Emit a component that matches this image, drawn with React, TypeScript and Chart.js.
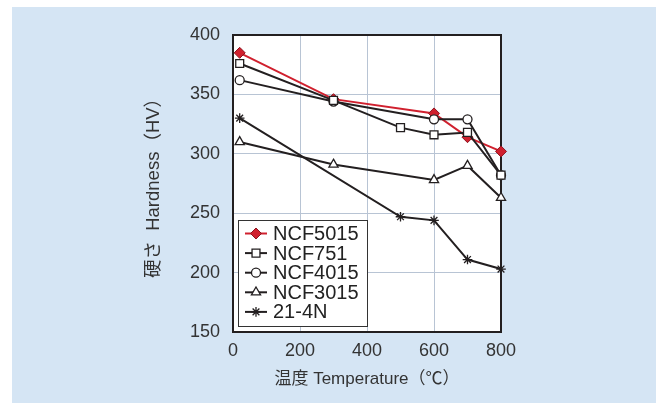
import React, { useEffect, useRef } from "react";
import { Chart, registerables } from "chart.js";
import { drawPoint } from "chart.js/helpers";

Chart.register(...registerables);

// ---- data ----
const seriesNames = ["NCF5015", "NCF751", "NCF4015", "NCF3015", "21-4N"];

const tempNCF5015 = [20, 300, 600, 700, 800];
const hvNCF5015 = [385, 346, 334, 314, 302];

const tempNCF751 = [20, 300, 500, 600, 700, 800];
const hvNCF751 = [376, 345, 322, 316, 318, 282];

const tempNCF4015 = [20, 300, 600, 700, 800];
const hvNCF4015 = [362, 344, 329, 329, 282];

const tempNCF3015 = [20, 300, 600, 700, 800];
const hvNCF3015 = [310, 291, 278, 290, 263];

const temp214N = [20, 500, 600, 700, 800];
const hv214N = [330, 247, 244, 211, 203];

const xTickValues = [0, 200, 400, 600, 800];
const yTickValues = [150, 200, 250, 300, 350, 400];

const xTitle = "温度 Temperature（℃）";
const yTitle = "硬さ  Hardness（HV）";

const FONT = "'Liberation Sans', Arial, 'Noto Sans CJK JP', sans-serif";
const RED = "#d0202e";
const RED_DARK = "#8e1420";
const DARK = "#231f20";
const GRID = "#b8c4d4";
const PANEL = "#d5e5f4";

const toPts = (xs: number[], ys: number[]) => xs.map((x, i) => ({ x, y: ys[i] }));

const framePlugin = {
  id: "frame",
  beforeDraw(chart: any) {
    const { ctx, chartArea: a } = chart;
    ctx.save();
    ctx.fillStyle = "#ffffff";
    ctx.fillRect(a.left, a.top, a.right - a.left, a.bottom - a.top);
    ctx.restore();
  },
  beforeDatasetsDraw(chart: any) {
    const { ctx, chartArea: a } = chart;
    ctx.save();
    ctx.strokeStyle = DARK;
    ctx.lineWidth = 2;
    ctx.strokeRect(a.left, a.top, a.right - a.left, a.bottom - a.top);
    ctx.restore();
  },
};

const legendPlugin = {
  id: "insideLegend",
  afterDatasetsDraw(chart: any) {
    const { ctx, chartArea: a } = chart;
    const ds = chart.data.datasets;
    const w = 129;
    const h = 106;
    const left = a.left + 5;
    const top = a.bottom - 6 - h;
    ctx.save();
    ctx.fillStyle = "#ffffff";
    ctx.fillRect(left, top, w, h);
    ctx.strokeStyle = "#333333";
    ctx.lineWidth = 1;
    ctx.strokeRect(left + 0.5, top + 0.5, w, h);
    ds.forEach((d: any, i: number) => {
      const cy = top + 13.5 + i * 19.6;
      ctx.strokeStyle = d.borderColor;
      ctx.lineWidth = 2;
      ctx.beginPath();
      ctx.moveTo(left + 7, cy);
      ctx.lineTo(left + 29, cy);
      ctx.stroke();
      ctx.fillStyle = d.pointBackgroundColor;
      ctx.strokeStyle = d.pointBorderColor;
      ctx.lineWidth = d.pointBorderWidth;
      drawPoint(ctx, {
        pointStyle: d.pointStyle,
        radius: d.pointRadius,
        rotation: 0,
        borderWidth: d.pointBorderWidth,
      } as any, left + 18, cy);
      ctx.fillStyle = "#222222";
      ctx.font = `20px ${FONT}`;
      ctx.textAlign = "left";
      ctx.textBaseline = "middle";
      ctx.fillText(d.label, left + 35, cy + 1);
    });
    ctx.restore();
  },
};

function makeDataset(label: string, pts: any[], style: string, radius: number, isRed: boolean, order: number) {
  return {
    label,
    data: pts,
    borderColor: isRed ? RED : DARK,
    borderWidth: 2,
    pointStyle: style,
    pointRadius: radius,
    pointHoverRadius: radius,
    pointBackgroundColor: isRed ? RED : "#ffffff",
    pointBorderColor: isRed ? RED_DARK : DARK,
    pointBorderWidth: isRed ? 1 : 1.3,
    fill: false,
    tension: 0,
    clip: false,
    order,
  };
}

export default function App() {
  const ref = useRef<HTMLCanvasElement | null>(null);

  useEffect(() => {
    if (!ref.current) return;
    const chart = new Chart(ref.current, {
      type: "line",
      data: {
        datasets: [
          makeDataset(seriesNames[0], toPts(tempNCF5015, hvNCF5015), "rectRot", 5.5, true, 5),
          makeDataset(seriesNames[1], toPts(tempNCF751, hvNCF751), "rect", 5.6, false, 1),
          makeDataset(seriesNames[2], toPts(tempNCF4015, hvNCF4015), "circle", 4.5, false, 2),
          makeDataset(seriesNames[3], toPts(tempNCF3015, hvNCF3015), "triangle", 5.3, false, 3),
          makeDataset(seriesNames[4], toPts(temp214N, hv214N), "star", 4.8, false, 4),
        ] as any,
      },
      options: {
        animation: false,
        responsive: false,
        devicePixelRatio: 1,
        events: [],
        layout: { padding: { left: 130, top: 35, right: 155, bottom: 10 } },
        plugins: {
          legend: { display: false },
          tooltip: { enabled: false },
        },
        scales: {
          x: {
            type: "linear",
            min: 0,
            max: 800,
            afterBuildTicks: (s: any) => {
              s.ticks = xTickValues.map((v) => ({ value: v }));
            },
            afterFit: (s: any) => {
              s.height = 61;
            },
            grid: { color: GRID, lineWidth: 1, drawTicks: false },
            border: { display: false },
            ticks: {
              padding: 8,
              color: "#333333",
              font: { size: 18, family: FONT },
              maxRotation: 0,
              autoSkip: false,
            },
            title: {
              display: true,
              text: xTitle,
              color: "#333333",
              font: { size: 17, family: FONT },
              padding: { top: 0, bottom: 3 },
            },
          },
          y: {
            type: "linear",
            min: 150,
            max: 400,
            afterBuildTicks: (s: any) => {
              s.ticks = yTickValues.map((v) => ({ value: v }));
            },
            afterFit: (s: any) => {
              s.width = 103;
            },
            grid: { color: GRID, lineWidth: 1, drawTicks: false },
            border: { display: false },
            ticks: {
              padding: 13,
              color: "#333333",
              font: { size: 18, family: FONT },
              autoSkip: false,
            },
            title: {
              display: true,
              text: yTitle,
              color: "#333333",
              font: { size: 18.5, family: FONT },
              padding: { top: 13, bottom: 0 },
            },
          },
        },
      } as any,
      plugins: [framePlugin, legendPlugin],
    });
    return () => chart.destroy();
  }, []);

  return (
    <div
      style={{
        position: "fixed",
        left: 0,
        top: 0,
        width: 656,
        height: 403,
        background: "#ffffff",
        overflow: "hidden",
      }}
    >
      <div
        style={{
          position: "absolute",
          left: 12,
          top: 7,
          right: 0,
          bottom: 0,
          background: PANEL,
        }}
      />
      <canvas
        ref={ref}
        width={656}
        height={403}
        style={{ position: "absolute", left: 0, top: 0, width: 656, height: 403 }}
      />
    </div>
  );
}
